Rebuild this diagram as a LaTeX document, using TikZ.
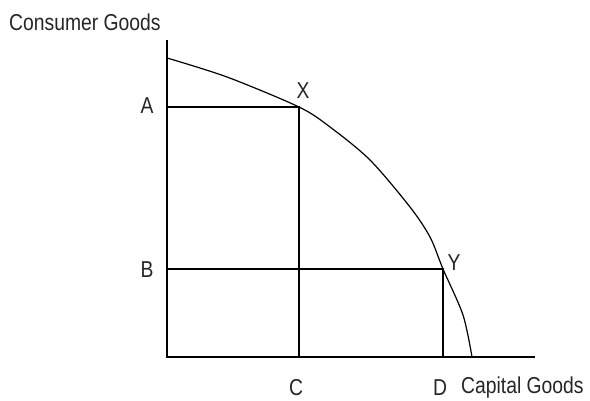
\documentclass[tikz,border=0pt]{standalone}
\usepackage{fontspec}
\usepackage{graphicx}
\setmainfont{Liberation Sans}
\newcommand{\lt}[1]{\scalebox{0.84}[1]{#1}}
\begin{document}
\begin{tikzpicture}[x=1pt,y=-1pt,
  ln/.style={line width=1.2pt,black},
  lbl/.style={font=\fontsize{23}{26}\selectfont,inner sep=0pt,text=black!85}]
\useasboundingbox[fill=white] (0,0) rectangle (590,401);
\coordinate (O) at (167,357);
\coordinate (top) at (167,40);
\coordinate (right) at (535,357);
\coordinate (X) at (299,107);
\coordinate (Y) at (443,269);
\coordinate (Aa) at (167,107);
\coordinate (Bb) at (167,269);
\coordinate (Cc) at (299,357);
\coordinate (Dd) at (443,357);
\coordinate (S) at (167,58);
\coordinate (E) at (472,357);
\draw[ln] (top) -- (O) -- (right);
\draw[ln] (Aa) -- (X) -- (Cc);
\draw[ln] (Bb) -- (Y) -- (Dd);
\draw[ln] plot[smooth,tension=0.5] coordinates {(S) (227,77) (X) (330,127) (370,160) (410,207) (430,237) (Y) (463,315) (E)};
\node[lbl,anchor=west] (cg) at (9,22) {\lt{Consumer Goods}};
\node[lbl] (la) at (147,106) {\lt{A}};
\node[lbl] (lb) at (147,270) {\lt{B}};
\node[lbl] (lc) at (296,388) {\lt{C}};
\node[lbl] (ld) at (440,388) {\lt{D}};
\node[lbl,anchor=west] (kg) at (461,388) {\lt{Capital Goods}};
\node[lbl] (lx) at (303,91) {\lt{X}};
\node[lbl] (ly) at (454,263) {\lt{Y}};
\end{tikzpicture}
\end{document}
